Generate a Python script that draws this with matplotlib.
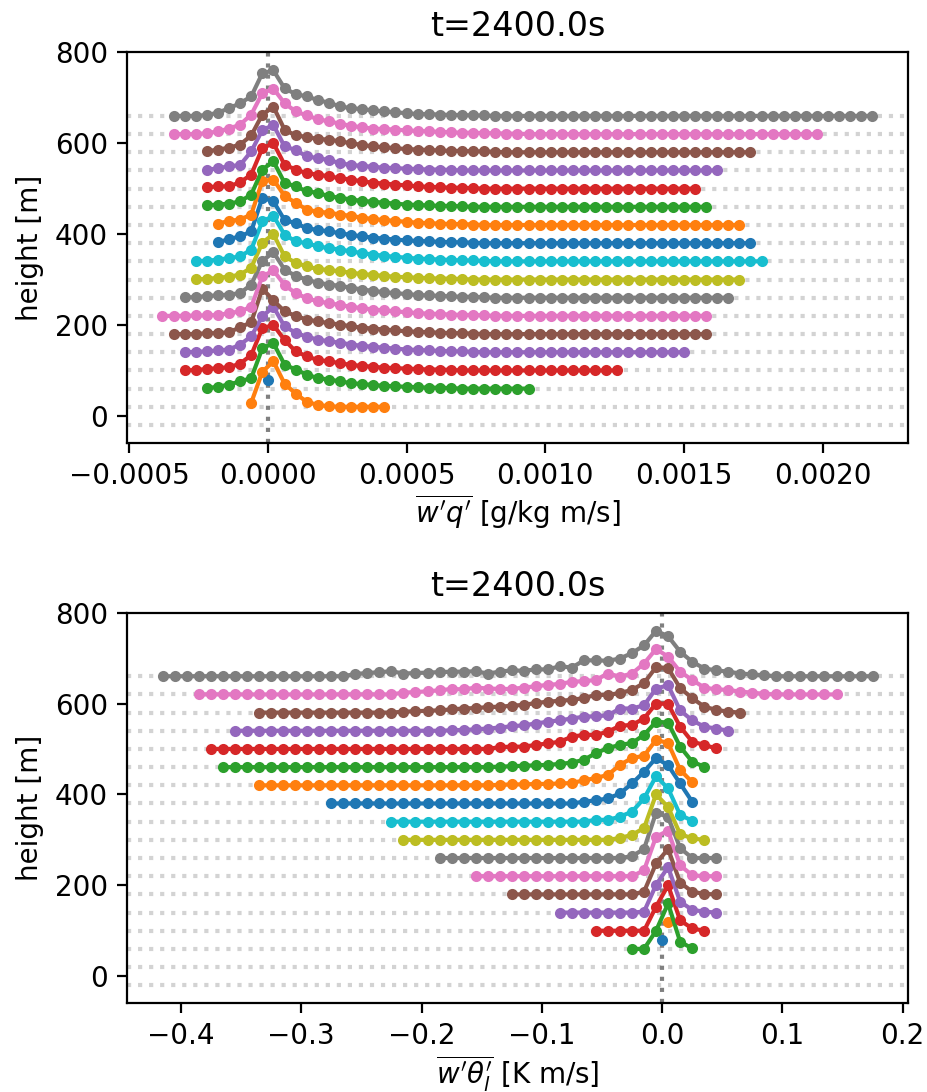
import numpy as np
import matplotlib
matplotlib.use('Agg')
import matplotlib.pyplot as plt

# base height of every level [m]
levels = [-20, 20, 60, 100, 140, 180, 220, 260, 300, 340, 380, 420, 460, 500, 540, 580, 620, 660]

# w'q' panel: bin spacing, first and last bin centre per level, and the height
# above the base line read from the left end (the rest sits on the base line)
wq_dx = 0.00004
wq_x0 = [0.0, -0.00006, -0.00022, -0.0003, -0.0003, -0.00034, -0.00038, -0.0003, -0.00026,
         -0.00026, -0.00018, -0.00018, -0.00022, -0.00022, -0.00022, -0.00022, -0.00034, -0.00034]
wq_x1 = [0.0, 0.00042, 0.00094, 0.00126, 0.0015, 0.00158, 0.00158, 0.00166, 0.0017,
         0.00178, 0.00174, 0.0017, 0.00158, 0.00154, 0.00162, 0.00174, 0.00198, 0.00218]
wq_rise = [
    [100],
    [9, 77, 100, 51, 29, 11, 4, 1],
    [1, 4, 9, 16, 23, 89, 100, 53, 42, 31, 23, 20, 16, 12, 10, 8, 6, 5, 4, 3, 2, 2, 1],
    [0, 1, 3, 5, 7, 15, 34, 93, 100, 67, 42, 31, 23, 20, 16, 12, 10, 8, 6, 5, 4, 3, 2, 2, 1],
    [0, 1, 2, 4, 6, 17, 35, 79, 100, 57, 43, 34, 28, 24, 21, 17, 14, 12, 10, 8, 6, 5, 4, 3, 2, 2, 1],
    [0, 0, 0, 2, 2, 4, 15, 26, 100, 74, 50, 40, 32, 28, 24, 21, 17, 14, 12, 10, 8, 6, 5, 4, 3, 2, 2, 1],
    [0, 0, 0, 1, 1, 2, 6, 10, 20, 87, 100, 68, 50, 39, 32, 28, 24, 20, 17, 14, 12, 10, 8, 6, 5, 4, 3, 2, 2, 1],
    [1, 1, 4, 5, 7, 10, 29, 81, 100, 62, 48, 40, 33, 29, 26, 22, 18, 15, 12, 10, 8, 6, 5, 4, 3, 2, 2, 1],
    [1, 1, 4, 6, 11, 26, 81, 100, 51, 37, 29, 23, 21, 18, 15, 12, 10, 8, 6, 5, 4, 3, 2, 2, 1],
    [1, 1, 4, 7, 11, 26, 88, 100, 59, 44, 40, 33, 29, 26, 22, 18, 15, 12, 10, 8, 6, 5, 4, 3, 2, 2, 1],
    [2, 9, 15, 26, 100, 92, 51, 44, 33, 29, 26, 22, 18, 15, 12, 10, 8, 6, 5, 4, 3, 2, 2, 1],
    [3, 9, 12, 23, 97, 100, 64, 49, 34, 29, 27, 23, 20, 16, 13, 11, 9, 7, 5, 4, 3, 2, 2, 1],
    [3, 5, 7, 12, 27, 82, 100, 53, 45, 34, 31, 23, 20, 16, 13, 11, 9, 7, 5, 4, 3, 2, 2, 1],
    [3, 5, 5, 14, 31, 89, 100, 53, 42, 34, 31, 27, 23, 20, 16, 13, 11, 9, 7, 5, 4, 3, 2, 2, 1],
    [1, 5, 9, 12, 42, 89, 100, 53, 45, 31, 27, 23, 16, 12, 10, 8, 6, 5, 4, 3, 2, 2, 1],
    [2, 6, 10, 17, 37, 83, 100, 50, 37, 34, 29, 28, 24, 20, 16, 13, 11, 9, 7, 6, 5, 4, 3, 3, 2, 2, 1],
    [0, 0, 0, 2, 6, 12, 21, 43, 90, 100, 68, 50, 41, 33, 28, 23, 18, 15, 12, 11, 10, 8, 7, 6, 5, 4, 3, 3, 2, 2, 1, 1],
    [0, 0, 0, 2, 7, 17, 28, 43, 94, 100, 61, 48, 43, 35, 29, 21, 17, 15, 12, 10, 8, 6, 4, 4, 3, 2, 2, 1, 1],
]

# w'theta_l' panel: heights read towards the right end (flat base line on the left)
wt_dx = 0.01
wt_x0 = [0.0, 0.005, -0.025, -0.055, -0.085, -0.125, -0.155, -0.185, -0.215,
         -0.225, -0.275, -0.335, -0.365, -0.375, -0.355, -0.335, -0.385, -0.415]
wt_x1 = [0.0, 0.005, 0.025, 0.035, 0.045, 0.045, 0.045, 0.045, 0.035,
         0.025, 0.025, 0.025, 0.035, 0.045, 0.055, 0.065, 0.145, 0.175]
wt_rise = [
    [100],
    [100],
    [0, 0, 40, 100, 16, 1],
    [53, 100, 23, 5, 0],
    [2, 61, 100, 24, 6, 2, 0],
    [6, 68, 100, 26, 6, 1, 0],
    [13, 87, 100, 24, 2, 0, 0],
    [4, 20, 100, 90, 22, 0, 0, 0],
    [4, 11, 26, 100, 72, 13, 3, 0],
    [4, 4, 11, 22, 51, 100, 73, 15, 2],
    [4, 7, 11, 22, 44, 70, 100, 84, 44, 4],
    [1, 2, 2, 3, 3, 4, 5, 11, 16, 23, 45, 60, 65, 100, 93, 34, 7],
    [1, 2, 3, 4, 5, 7, 10, 16, 31, 42, 49, 53, 71, 100, 98, 45, 12, 1],
    [4, 5, 5, 9, 12, 16, 27, 31, 31, 38, 51, 53, 67, 100, 99, 49, 16, 9, 1],
    [1, 2, 3, 5, 7, 10, 12, 16, 20, 23, 27, 31, 32, 34, 49, 49, 56, 93, 100, 45, 23, 9, 5, 0],
    [2, 3, 4, 5, 7, 9, 10, 12, 13, 15, 17, 21, 24, 26, 28, 32, 39, 39, 43, 50, 65, 100, 98, 54, 32, 13, 6, 2, 0],
    [4, 5, 7, 9, 12, 11, 15, 13, 12, 12, 15, 18, 21, 23, 28, 29, 32, 46, 39, 46, 68, 100, 83, 50, 32, 15,
     11, 10, 6, 4, 1, 0, 0, 0, 0, 0, 0],
    [5, 7, 9, 11, 6, 7, 8, 9, 10, 10, 11, 6, 10, 13, 12, 15, 15, 22, 19, 35, 35, 34, 39, 51, 68, 100, 88,
     54, 32, 17, 13, 10, 6, 4, 2, 0, 0, 0, 0, 0, 0, 0, 0, 0],
]


def profile(x0, x1, dx, rise, from_right=False):
    n = int(round((x1 - x0) / dx)) + 1
    dy = np.zeros(n)
    if from_right:
        dy[n - len(rise):] = rise
    else:
        dy[:len(rise)] = rise
    return x0 + dx * np.arange(n), dy


fig = plt.figure(figsize=(927 / 200, 1092 / 200), dpi=200)
ax1 = fig.add_axes([0.1373, 0.5946, 0.8419, 0.3575])
ax2 = fig.add_axes([0.1373, 0.0815, 0.8419, 0.3575])

panels = [
    (ax1, wq_x0, wq_x1, wq_dx, wq_rise, False, r"$\overline{w'q'}$ [g/kg m/s]", (-0.000507, 0.002307)),
    (ax2, wt_x0, wt_x1, wt_dx, wt_rise, True, r"$\overline{w'\theta_l'}$ [K m/s]", (-0.4446, 0.2042)),
]

for ax, x0s, x1s, dx, rises, from_right, xlabel, xlim in panels:
    ax.axvline(0, color='gray', ls=':', lw=1.5)
    for i, z in enumerate(levels):
        ax.axhline(z, color='lightgray', ls=':', lw=1.5, zorder=0)
        x, dy = profile(x0s[i], x1s[i], dx, rises[i], from_right)
        ax.plot(x, z + dy, '.-', color='C%d' % (i % 10))
    ax.set_xlim(*xlim)
    ax.set_ylim(-59, 800)
    ax.set_title('t=2400.0s')
    ax.set_ylabel('height [m]')
    ax.set_xlabel(xlabel, labelpad=1)

fig.savefig('out.png', dpi=200)
